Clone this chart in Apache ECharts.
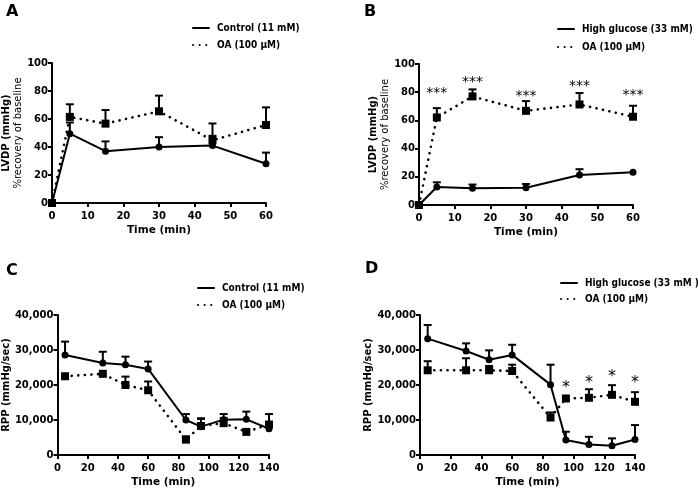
<!DOCTYPE html>
<html>
<head>
<meta charset="utf-8">
<script src="https://cdn.jsdelivr.net/npm/echarts@6/dist/echarts.min.js"></script>
<style>html,body{margin:0;padding:0;background:#fff}#c{width:698px;height:492px}</style>
</head>
<body>
<div id="c"></div>
<script>
// ---------- data ----------
const timeAB = [0, 5, 15, 30, 45, 60];
const timeCD = [5, 30, 45, 60, 85, 95, 110, 125, 140];

const ctrlA    = [0, 49.5, 37, 40, 41, 28];
const ctrlASem = [0, 8, 7, 7, 7, 8];
const oaA      = [0, 61.5, 56.7, 65.5, 44.8, 55.7];
const oaASem   = [0, 9, 9.7, 11.2, 12, 12.6];

const hgB      = [0, 12.8, 11.8, 12.3, 21.3, 23.2];
const hgBSem   = [0, 3.3, 2.7, 2.6, 4.1, 0];
const oaB      = [0, 62.1, 77, 66.8, 71.3, 62.6];
const oaBSem   = [0, 6.6, 5, 6.9, 8.1, 7.8];
const starsBTime = [5, 15, 30, 45, 60];
const starsBLevel = [79, 87, 77, 84, 78];

const ctrlC    = [28600, 26300, 25800, 24600, 10000, 8100, 10100, 10200, 7500];
const ctrlCSem = [3800, 3200, 2300, 2100, 1700, 2400, 1600, 2200, 4200];
const oaC      = [22500, 23200, 20000, 18500, 4400, 8300, 9100, 6600, 8700];
const oaCSem   = [0, 0, 2400, 2500, 900, 2000, 1500, 0, 0];

const hgD      = [33250, 29700, 27200, 28600, 20100, 4300, 3000, 2650, 4450];
const hgDSem   = [3900, 2200, 2700, 2900, 5700, 2350, 2200, 2100, 4100];
const oaD      = [24200, 24200, 24200, 24000, 10700, 16150, 16350, 17200, 15200];
const oaDSem   = [2600, 3450, 1250, 1800, 1450, 0, 2450, 2750, 2750];
const starsDTime = [95, 110, 125, 140];
const starsDLevel = [19300, 20700, 22300, 20600];

const nameCtrl = 'Control (11 mM)';
const nameHgB = 'High glucose (33 mM)';
const nameHgD = 'High glucose (33 mM )';
const nameOA = 'OA (100 \u00B5M)';

// ---------- helpers ----------
const FONT = 'DejaVu Sans';
const FONT_C = '"DejaVu Sans Condensed", "DejaVu Sans"';
const zip = (xs, ys) => xs.map((x, i) => [x, ys[i]]);
const zip3 = (xs, ys, es) => xs.map((x, i) => [x, ys[i], es[i]]);

function lineSeries(name, idx, xs, ys, dotted) {
  return {
    type: 'line', name, xAxisIndex: idx, yAxisIndex: idx,
    data: zip(xs, ys),
    symbol: dotted ? 'rect' : 'circle',
    symbolSize: dotted ? 8 : 7,
    itemStyle: { color: '#000' },
    lineStyle: { color: '#000', width: dotted ? 2.6 : 2, type: dotted ? [0.1, 6.5] : 'solid', cap: 'round' },
    z: 5
  };
}
function errSeries(idx, xs, ys, es) {
  return {
    type: 'custom', xAxisIndex: idx, yAxisIndex: idx, silent: true, z: 3,
    data: zip3(xs, ys, es),
    renderItem(params, api) {
      const x = api.value(0), y = api.value(1), e = api.value(2);
      if (!e) return null;
      const p0 = api.coord([x, y]);
      const p1 = api.coord([x, y + e]);
      const st = { stroke: '#000', lineWidth: 2 };
      return { type: 'group', children: [
        { type: 'line', shape: { x1: p0[0], y1: p0[1], x2: p1[0], y2: p1[1] }, style: st },
        { type: 'line', shape: { x1: p1[0] - 4, y1: p1[1], x2: p1[0] + 4, y2: p1[1] }, style: st }
      ]};
    }
  };
}
function starSeries(idx, xs, ys, txt, size) {
  return {
    type: 'custom', xAxisIndex: idx, yAxisIndex: idx, silent: true, z: 6,
    data: zip(xs, ys),
    renderItem(params, api) {
      const p = api.coord([api.value(0), api.value(1)]);
      return { type: 'text', x: p[0], y: p[1],
        style: { text: txt, fontSize: size, fontFamily: FONT, fill: '#000', align: 'center', verticalAlign: 'middle' } };
    }
  };
}
function commas(v) { return String(v).replace(/\B(?=(\d{3})+(?!\d))/g, ','); }

const grids = [
  { left: 52, top: 63, width: 214, height: 140 },
  { left: 419, top: 64, width: 214, height: 141 },
  { left: 55, top: 315, width: 214, height: 140 },
  { left: 420, top: 315, width: 215, height: 140 }
];
const axisCommon = {
  axisLine: { show: true, onZero: false, lineStyle: { color: '#000', width: 2 } },
  axisTick: { show: true, length: 4, lineStyle: { color: '#000', width: 2 } },
  axisLabel: { color: '#000', fontFamily: FONT, fontWeight: 'bold', fontSize: 10, margin: 4 },
  splitLine: { show: false }
};
const xAxes = [
  [0, 60, 10], [0, 60, 10], [0, 140, 20], [0, 140, 20]
].map((a, i) => Object.assign({}, axisCommon, {
  type: 'value', gridIndex: i, min: a[0], max: a[1], interval: a[2],
  axisLabel: Object.assign({}, axisCommon.axisLabel, { margin: 8 }),
  name: 'Time (min)', nameLocation: 'middle', nameGap: 22,
  nameTextStyle: { color: '#000', fontFamily: FONT, fontWeight: 'bold', fontSize: 10.5 }
}));
const yNames = [
  ['{a|LVDP (mmHg)}\n{b|%recovery of baseline}', 24, 0, 100, 20],
  ['{a|LVDP (mmHg)}\n{b|%recovery of baseline}', 28, 0, 100, 20],
  ['{a|RPP (mmHg/sec)}', 42, 0, 40000, 10000],
  ['{a|RPP (mmHg/sec)}', 32, 0, 40000, 10000]
];
const yAxes = yNames.map((a, i) => Object.assign({}, axisCommon, {
  type: 'value', gridIndex: i, min: a[2], max: a[3], interval: a[4],
  axisLabel: Object.assign({}, axisCommon.axisLabel, { margin: 4, formatter: v => commas(v) }),
  name: a[0], nameLocation: 'middle', nameRotate: 90, nameGap: a[1],
  nameTextStyle: { color: '#000', fontFamily: FONT, fontSize: 10,
    rich: { a: { fontWeight: 'bold', fontSize: 10, fontFamily: FONT, lineHeight: 12 },
            b: { fontWeight: 'normal', fontSize: 10, fontFamily: FONT, lineHeight: 12 } } }
}));

function legend(names, left, top, gap) {
  return {
    orient: 'vertical', left, top, padding: 0, itemWidth: 16, itemHeight: 10, itemGap: gap,
    data: names, selectedMode: false,
    itemStyle: { opacity: 0 },
    textStyle: { color: '#000', fontFamily: FONT_C, fontWeight: 'bold', fontSize: 10, padding: [0, 0, 0, 3] }
  };
}
function panelTitle(t, left, top) {
  return { text: t, left, top, padding: 0,
    textStyle: { fontFamily: FONT, fontWeight: 'bold', fontSize: 16, color: '#000' } };
}

const option = {
  animation: false,
  backgroundColor: '#fff',
  title: [panelTitle('A', 6, 4), panelTitle('B', 364, 4), panelTitle('C', 6, 263), panelTitle('D', 365, 261)],
  legend: [
    legend([nameCtrl, nameOA], 192, 23, 7),
    legend([nameHgB, nameOA], 557, 24, 8),
    legend([nameCtrl, nameOA], 197, 283, 7),
    legend([nameHgD, nameOA], 560, 278, 6)
  ],
  grid: grids,
  xAxis: xAxes,
  yAxis: yAxes,
  series: [
    errSeries(0, timeAB, ctrlA, ctrlASem),
    errSeries(0, timeAB, oaA, oaASem),
    lineSeries(nameCtrl, 0, timeAB, ctrlA, false),
    lineSeries(nameOA, 0, timeAB, oaA, true),

    errSeries(1, timeAB, hgB, hgBSem),
    errSeries(1, timeAB, oaB, oaBSem),
    lineSeries(nameHgB, 1, timeAB, hgB, false),
    lineSeries(nameOA, 1, timeAB, oaB, true),
    starSeries(1, starsBTime, starsBLevel, '***', 14),

    errSeries(2, timeCD, ctrlC, ctrlCSem),
    errSeries(2, timeCD, oaC, oaCSem),
    lineSeries(nameCtrl, 2, timeCD, ctrlC, false),
    lineSeries(nameOA, 2, timeCD, oaC, true),

    errSeries(3, timeCD, hgD, hgDSem),
    errSeries(3, timeCD, oaD, oaDSem),
    lineSeries(nameHgD, 3, timeCD, hgD, false),
    lineSeries(nameOA, 3, timeCD, oaD, true),
    starSeries(3, starsDTime, starsDLevel, '*', 16)
  ]
};
const chart = echarts.init(document.getElementById('c'), null, { renderer: 'canvas' });
chart.setOption(option);
</script>
</body>
</html>
